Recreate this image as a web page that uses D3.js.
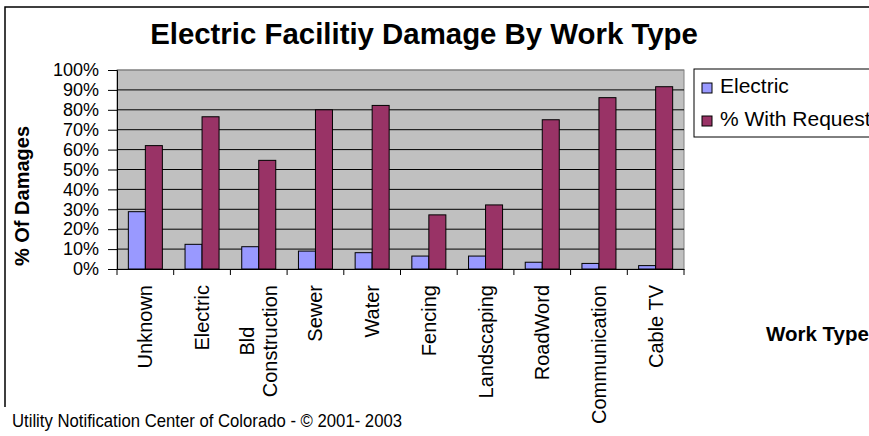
<!DOCTYPE html>
<html lang="en">
<head>
<meta charset="UTF-8">
<title>Electric Facility Damage By Work Type</title>
<script src="https://d3js.org/d3.v7.min.js"></script>
<style>
    body { margin: 0; background: #fff; }
    svg { display: block; font-family: "Liberation Sans", Arial, sans-serif; }
</style>
</head>
<body>
<div id="chart"></div>
<script>
    // data
    const categories = ["Unknown", "Electric", "Bld\nConstruction", "Sewer", "Water",
        "Fencing", "Landscaping", "RoadWord", "Communication", "Cable TV"];
    const seriesNames = ["Electric", "% With Request"];
    const electric = [0.288, 0.124, 0.112, 0.09, 0.082, 0.065, 0.065, 0.034, 0.028, 0.017];
    const withRequest = [0.62, 0.765, 0.546, 0.80, 0.822, 0.272, 0.322, 0.75, 0.861, 0.916];
    const yTicks = [0, 0.1, 0.2, 0.3, 0.4, 0.5, 0.6, 0.7, 0.8, 0.9, 1];
    const colors = ["#9999ff", "#993366"];

    const width = 869, height = 436;
    const plot = { left: 117, right: 684, top: 70, bottom: 269 };

    const svg = d3.select("#chart").append("svg")
        .attr("width", width)
        .attr("height", height);

    // chart area border: only left and top edges show in the original
    svg.append("path")
        .attr("d", "M5,407 V7 H" + (width + 10))
        .attr("fill", "none")
        .attr("stroke", "#000")
        .attr("stroke-width", 1.5);

    const x0 = d3.scaleBand().domain(categories).range([plot.left, plot.right]).padding(0);
    const x1 = d3.scaleBand().domain(seriesNames)
        .range([x0.bandwidth() * 0.2, x0.bandwidth() * 0.8]);
    const y = d3.scaleLinear().domain([0, 1]).range([plot.bottom, plot.top]);

    // plot background
    svg.append("rect")
        .attr("x", plot.left).attr("y", plot.top)
        .attr("width", plot.right - plot.left)
        .attr("height", plot.bottom - plot.top)
        .attr("fill", "#c0c0c0")
        .attr("stroke", "#808080");

    // gridlines
    svg.append("g")
        .selectAll("line")
        .data(yTicks.slice(1))
        .join("line")
        .attr("x1", plot.left).attr("x2", plot.right)
        .attr("y1", d => y(d)).attr("y2", d => y(d))
        .attr("stroke", d => d === 1 ? "#808080" : "#000")
        .attr("stroke-width", 1);

    // bars
    const rows = categories.map((c, i) => ({ cat: c, vals: [electric[i], withRequest[i]] }));
    svg.append("g")
        .selectAll("g")
        .data(rows)
        .join("g")
        .attr("transform", d => `translate(${x0(d.cat)},0)`)
        .selectAll("rect")
        .data(d => d.vals.map((v, k) => ({ name: seriesNames[k], v, k })))
        .join("rect")
        .attr("x", d => x1(d.name))
        .attr("width", x1.bandwidth())
        .attr("y", d => y(d.v))
        .attr("height", d => y(0) - y(d.v))
        .attr("fill", d => colors[d.k])
        .attr("stroke", "#000")
        .attr("stroke-width", 1);

    // y axis
    const yAxis = svg.append("g")
        .attr("transform", `translate(${plot.left},0)`)
        .call(d3.axisLeft(y).tickValues(yTicks).tickFormat(d3.format(".0%")).tickSize(9).tickPadding(9));
    yAxis.select(".domain").attr("stroke", "#000");
    yAxis.selectAll("text").attr("font-size", 18).attr("fill", "#000")
        .attr("font-family", "Liberation Sans, Arial, sans-serif");

    // x axis
    const xAxis = svg.append("g")
        .attr("transform", `translate(0,${plot.bottom})`)
        .call(d3.axisBottom(x0).tickValues([]).tickSizeOuter(0));
    xAxis.select(".domain").attr("stroke", "#000");
    xAxis.selectAll(".bound")
        .data(d3.range(categories.length + 1))
        .join("line")
        .attr("class", "bound")
        .attr("x1", i => plot.left + i * x0.step())
        .attr("x2", i => plot.left + i * x0.step())
        .attr("y1", 0).attr("y2", 6)
        .attr("stroke", "#000");

    // rotated category labels
    const labelSize = 20;
    const labels = svg.append("g")
        .selectAll("g")
        .data(categories)
        .join("g")
        .attr("transform", d => `translate(${x0(d) + x0.bandwidth() / 2},285) rotate(-90)`);

    labels.each(function (d) {
        const g = d3.select(this);
        const lines = d.split("\n");
        const texts = lines.map((ln, i) => g.append("text")
            .attr("font-size", labelSize)
            .attr("fill", "#000")
            .attr("y", `${(i - (lines.length - 1) / 2) * 1.15 + 0.35}em`)
            .text(ln));
        const widths = texts.map(t => t.node().getComputedTextLength());
        const maxW = d3.max(widths);
        texts.forEach(t => t.attr("text-anchor", "middle").attr("x", -maxW / 2));
    });

    // titles
    svg.append("text")
        .attr("x", 424).attr("y", 44)
        .attr("text-anchor", "middle")
        .attr("font-size", 29.4)
        .attr("font-weight", "bold")
        .text("Electric Facilitiy Damage By Work Type");

    svg.append("text")
        .attr("transform", "translate(29,196) rotate(-90)")
        .attr("text-anchor", "middle")
        .attr("font-size", 20)
        .attr("font-weight", "bold")
        .text("% Of Damages");

    svg.append("text")
        .attr("x", 766).attr("y", 341)
        .attr("font-size", 20.5)
        .attr("font-weight", "bold")
        .text("Work Type");

    // legend
    const legend = svg.append("g");
    legend.append("rect")
        .attr("x", 694).attr("y", 69)
        .attr("width", 220).attr("height", 68)
        .attr("fill", "#fff")
        .attr("stroke", "#000");
    const item = legend.selectAll(".item")
        .data(seriesNames)
        .join("g")
        .attr("class", "item")
        .attr("transform", (d, i) => `translate(702,${83 + i * 33})`);
    item.append("rect")
        .attr("width", 10).attr("height", 10)
        .attr("fill", (d, i) => colors[i])
        .attr("stroke", "#000");
    item.append("text")
        .attr("x", 18).attr("y", 10)
        .attr("font-size", 21)
        .text(d => d);

    // footer
    svg.append("text")
        .attr("x", 12).attr("y", 427)
        .attr("font-size", 19)
        .attr("font-family", "Liberation Sans Narrow, Arial Narrow, Liberation Sans, sans-serif")
        .attr("textLength", 390)
        .attr("lengthAdjust", "spacingAndGlyphs")
        .text("Utility Notification Center of Colorado - \u00a9 2001- 2003");
</script>
</body>
</html>
